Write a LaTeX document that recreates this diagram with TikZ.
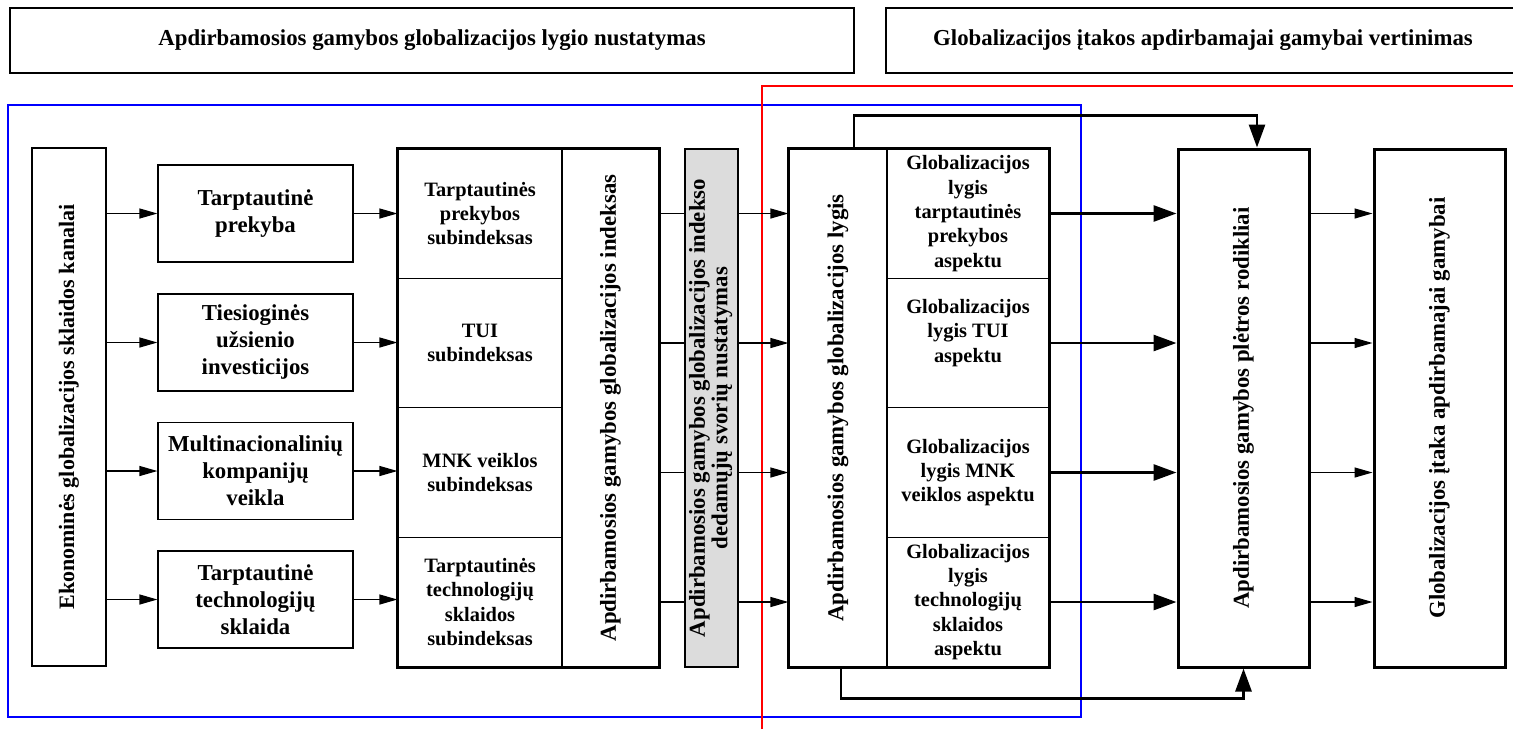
\documentclass[tikz,border=0pt]{standalone}
\usepackage{fontspec}
\setmainfont{Liberation Serif}
\usetikzlibrary{arrows.meta}
\definecolor{svorisgray}{HTML}{DCDCDC}
\newcommand{\vtext}[1]{\rotatebox{90}{\begin{tabular}{@{}c@{}}#1\end{tabular}}}
\tikzset{
  box/.style={draw, line width=0.6pt, inner sep=0pt, align=center,
    font=\fontsize{11.4}{13.5}\selectfont\bfseries},
  cell/.style={box, font=\fontsize{10.2}{12.2}\selectfont\bfseries},
  frame/.style={line width=1.5pt},
  arr/.style={line width=0.6pt, -{Triangle[length=9pt,width=5pt]}},
  bigarr/.style={line width=1.4pt, -{Triangle[length=11.5pt,width=8pt]}}
}
\begin{document}
\begin{tikzpicture}[x=0.5pt, y=-0.5pt]
\useasboundingbox (0,0) rectangle (1513,729);
% blue and red frames
\draw[blue, line width=1.1pt] (8,105) rectangle (1081,717);
\draw[red, line width=1.1pt] (762,729) -- (762,86) -- (1520,86);
% headers
\node[box] (hdrL) at (432,40.5) [minimum width=422pt, minimum height=32.5pt] {Apdirbamosios gamybos globalizacijos lygio nustatymas};
\node[box] (hdrR) at (1203,40.5) [minimum width=317pt, minimum height=32.5pt] {Globalizacijos įtakos apdirbamajai gamybai vertinimas};
% channels
\node[box, minimum width=37pt, minimum height=259pt, font=\fontsize{11}{13}\selectfont\bfseries] (kanalai) at (69,407) {\vtext{Ekonominės globalizacijos sklaidos kanalai}};
\node[box, minimum width=97.5pt, minimum height=48.5pt] (chan1) at (255.5,213.5) {Tarptautinė\\prekyba};
\node[box, minimum width=97.5pt, minimum height=48.5pt] (chan2) at (255.5,342.5) {Tiesioginės\\užsienio\\investicijos};
\node[box, minimum width=97.5pt, minimum height=48.5pt] (chan3) at (255.5,471) {Multinacionalinių\\kompanijų\\veikla};
\node[box, minimum width=97.5pt, minimum height=48.5pt] (chan4) at (255.5,599.5) {Tarptautinė\\technologijų\\sklaida};
% index
\node[cell, minimum width=82pt, minimum height=64.75pt] (sub1) at (480,213.5) {Tarptautinės\\prekybos\\subindeksas};
\node[cell, minimum width=82pt, minimum height=64.75pt] (sub2) at (480,343) {TUI\\subindeksas};
\node[cell, minimum width=82pt, minimum height=64.75pt] (sub3) at (480,472.5) {MNK veiklos\\subindeksas};
\node[cell, minimum width=82pt, minimum height=64.75pt] (sub4) at (480,602) {Tarptautinės\\technologijų\\sklaidos\\subindeksas};
\node[box, minimum width=48.5pt, minimum height=259pt] (idxlab) at (610.5,408) {\vtext{Apdirbamosios gamybos globalizacijos indeksas}};
\draw[frame] (sub1.north west) rectangle (idxlab.south east);
% level
\node[box, minimum width=49pt, minimum height=259pt] (lyglab) at (838,408) {\vtext{Apdirbamosios gamybos globalizacijos lygis}};
\node[cell, minimum width=81pt, minimum height=64.75pt] (cell1) at (968,213.5) {Globalizacijos\\lygis\\tarptautinės\\prekybos\\aspektu};
\node[cell, minimum width=81pt, minimum height=64.75pt] (cell2) at (968,343) {Globalizacijos\\lygis TUI\\aspektu\\~};
\node[cell, minimum width=81pt, minimum height=64.75pt] (cell3) at (968,472.5) {Globalizacijos\\lygis MNK\\veiklos aspektu};
\node[cell, minimum width=81pt, minimum height=64.75pt] (cell4) at (968,602) {Globalizacijos\\lygis\\technologijų\\sklaidos\\aspektu};
\draw[frame] (lyglab.north west) rectangle (cell4.south east);
% results
\node[box, frame, minimum width=65.5pt, minimum height=259pt] (dev) at (1243.5,408) {\vtext{Apdirbamosios gamybos plėtros rodikliai}};
\node[box, frame, minimum width=65.5pt, minimum height=259pt] (impact) at (1439.5,408) {\vtext{Globalizacijos įtaka apdirbamajai gamybai}};
% arrows
\foreach \i in {1,2,3,4} {
  \draw[arr] (kanalai.east |- chan\i) -- (chan\i);
  \draw[arr] (chan\i.east) -- (chan\i -| sub\i.west);
  \draw[arr] (idxlab.east |- sub\i) -- (lyglab.west |- sub\i);
  \draw[bigarr] (cell\i.east) -- (cell\i -| dev.west);
  \draw[arr] (dev.east |- cell\i) -- (impact.west |- cell\i);
}
\draw[bigarr] ([xshift=8pt]lyglab.north) -- ++(0,-33) -| ([xshift=6.75pt]dev.north);
\draw[bigarr] ([xshift=1.5pt]lyglab.south) -- ++(0,31) -| (dev.south);
% weights
\node[box, fill=svorisgray, minimum width=26.5pt, minimum height=259pt, font=\fontsize{11.4}{11}\selectfont\bfseries] (svoriai) at (711.5,408) {\vtext{Apdirbamosios gamybos globalizacijos indekso\\dedamųjų svorių nustatymas}};
\end{tikzpicture}
\end{document}
